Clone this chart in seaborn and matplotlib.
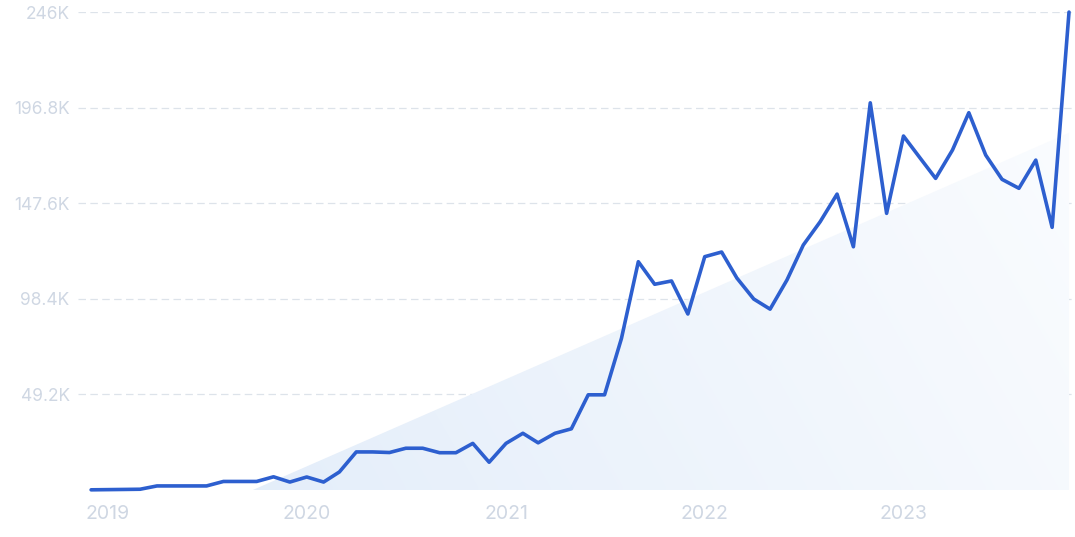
import numpy as np
import pandas as pd
import matplotlib.pyplot as plt
import matplotlib.dates as mdates
import seaborn as sns

# monthly search volume, Dec 2018 .. Nov 2023
months = pd.date_range('2018-12-01', periods=60, freq='MS')
searches = [
    100, 200, 300, 400, 2100, 2100, 2100, 2100, 4400, 4400, 4400, 6800,
    4100, 6700, 4100, 9300, 19600, 19600, 19300, 21500, 21500, 19200, 19200, 24000,
    14300, 24000, 29200, 24300, 29200, 31500, 49000, 49000, 78000, 117500, 105900, 107600,
    90600, 120100, 122500, 109100, 98300, 93100, 108100, 126100, 138100, 152300, 125200, 199300,
    142400, 182200, 170700, 160400, 175000, 194200, 172400, 159900, 155300, 169800, 135200, 246000,
]
y_ticks = [49200, 98400, 147600, 196800, 246000]
y_labels = ['49.2K', '98.4K', '147.6K', '196.8K', '246K']
year_labels = ['2019', '2020', '2021', '2022', '2023']

df = pd.DataFrame({'month': months, 'searches': searches})

sns.set_style('white')
plt.rcParams['font.family'] = ['Inter', 'DejaVu Sans']

fig = plt.figure(figsize=(10.75, 5.37), dpi=100)
ax = fig.add_axes([0.0726, 0.0875, 0.9274, 0.89])

# linear trend -> shaded triangle under it
idx = np.arange(len(df))
k, b = np.polyfit(idx, df['searches'], 1)
dnum = mdates.date2num(df['month'])
x0 = np.interp(-b / k, idx, dnum)
tx = [x0, dnum[-1], dnum[-1]]
ty = [0, k * idx[-1] + b, 0]
poly = ax.fill(tx, ty, facecolor='none', edgecolor='none')[0]

gx = np.linspace(0, 1, 256)
gy = np.linspace(0, 1, 64)
GX, GY = np.meshgrid(gx, gy)
t = np.clip(0.8 * GX + 0.2 * (1 - GY), 0, 1)
c0 = np.array([0.895, 0.933, 0.980])
c1 = np.array([0.980, 0.988, 0.998])
grad = c0 + (c1 - c0) * t[..., None]
im = ax.imshow(grad, extent=[x0, dnum[-1], 0, ty[1]], aspect='auto',
               origin='upper', zorder=1, interpolation='bilinear')
im.set_clip_path(poly)

sns.lineplot(data=df, x='month', y='searches', color='#2d5fcf',
             linewidth=2.6, ax=ax, zorder=3)
ax.lines[-1].set_clip_on(False)

for yv in y_ticks:
    ax.axhline(yv, color='#dde3ea', linewidth=0.9, linestyle=(0, (6, 3.5)), zorder=0)

ax.set_xlim(mdates.date2num(pd.Timestamp('2018-11-07')),
            mdates.date2num(pd.Timestamp('2023-11-12')))
ax.set_ylim(0, 246000)

ax.set_yticks(y_ticks)
ax.set_yticklabels(y_labels)
ax.set_xticks([pd.Timestamp(y + '-01-01') for y in year_labels])
ax.set_xticklabels(year_labels)
ax.tick_params(axis='y', length=0, pad=6, labelsize=12.5, labelcolor='#cfd7e3')
ax.tick_params(axis='x', length=0, pad=11, labelsize=14, labelcolor='#cfd7e3')
ax.set_xlabel('')
ax.set_ylabel('')
sns.despine(ax=ax, left=True, bottom=True)

fig.savefig('out.png', dpi=100)
